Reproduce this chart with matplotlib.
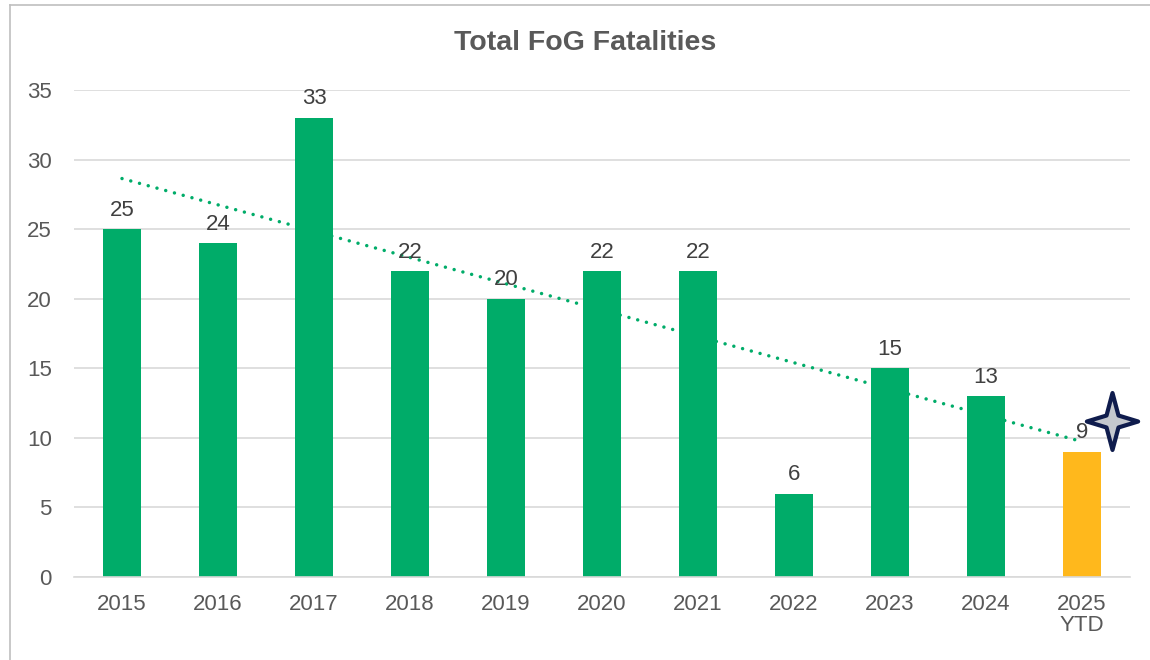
import numpy as np
import matplotlib
matplotlib.use("Agg")
import matplotlib.pyplot as plt
from matplotlib.path import Path
from matplotlib.lines import Line2D

plt.rcParams['font.family'] = ['Liberation Sans', 'DejaVu Sans']

categories = ["2015", "2016", "2017", "2018", "2019", "2020", "2021", "2022", "2023", "2024", "2025\nYTD"]
values = [25, 24, 33, 22, 20, 22, 22, 6, 15, 13, 9]
bar_colors = ["#00AC69"] * 10 + ["#FFB81C"]
title = "Total FoG Fatalities"
yticks = [0, 5, 10, 15, 20, 25, 30, 35]

W, H = 1150, 660
fig = plt.figure(figsize=(W / 100, H / 100), dpi=100)
ax = fig.add_axes([74 / W, 1 - 577 / H, (1130 - 74) / W, (577 - 90) / H])

x = np.arange(len(categories))
ax.bar(x, values, width=0.4, color=bar_colors, zorder=2)

for xi, v in zip(x, values):
    ax.text(xi, v + 0.6, str(v), ha='center', va='bottom', fontsize=16,
            color='#404040', zorder=4, clip_on=False)

# linear trendline
coef = np.polyfit(x, values, 1)
ax.plot([x[0], x[-1]], np.polyval(coef, [x[0], x[-1]]), linestyle=(0, (0.01, 2.6)),
        color='#00AC69', linewidth=2.5, zorder=3, dash_capstyle='round')

ax.set_xlim(-0.5, len(categories) - 0.5)
ax.set_ylim(0, 35)
ax.set_yticks(yticks)
ax.set_xticks(x)
ax.set_xticklabels(categories, linespacing=1.05)
ax.tick_params(axis='both', length=0, labelsize=16, colors='#595959')
ax.tick_params(axis='x', pad=12)
ax.tick_params(axis='y', pad=16)
ax.grid(axis='y', color='#D9D9D9', linewidth=1.2, zorder=0)
for s in ['top', 'right', 'left']:
    ax.spines[s].set_visible(False)
ax.spines['bottom'].set_color('#D9D9D9')
ax.spines['bottom'].set_linewidth(1.2)

# four-pointed star marker
r_out_v, r_out_h, r_in = 1.0, 0.9, 0.3
verts = [(0, r_out_v), (r_in * 0.7, r_in * 0.7), (r_out_h, 0), (r_in * 0.7, -r_in * 0.7),
         (0, -r_out_v), (-r_in * 0.7, -r_in * 0.7), (-r_out_h, 0), (-r_in * 0.7, r_in * 0.7),
         (0, r_out_v)]
codes = [Path.MOVETO] + [Path.LINETO] * 7 + [Path.CLOSEPOLY]
star = Path(verts, codes)
ax.plot([10.31], [11.2], marker=star, markersize=41, markerfacecolor='#C4C8CE',
        markeredgecolor='#0F1C4D', markeredgewidth=3, clip_on=False, zorder=5)

fig.text(585 / W, 1 - 43 / H, title, ha='center', va='center',
         fontsize=20.5, fontweight='bold', color='#595959')

# outer border
bx, by = 9.5 / W, 1 - 4.5 / H
fig.add_artist(Line2D([bx, bx], [0, by], transform=fig.transFigure, color='#BFBFBF', linewidth=1.2))
fig.add_artist(Line2D([bx, 1], [by, by], transform=fig.transFigure, color='#BFBFBF', linewidth=1.2))

fig.savefig("out.png", dpi=100, facecolor='white')
